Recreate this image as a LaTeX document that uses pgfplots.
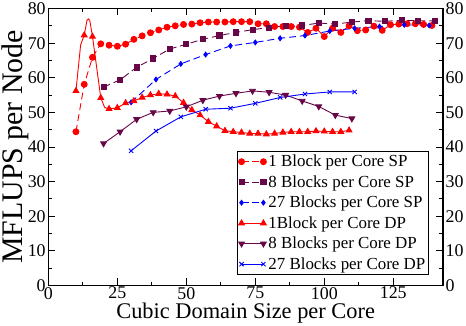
\documentclass[border=0pt]{standalone}
\usepackage{fontspec}
\setmainfont{Liberation Serif}
\usepackage{pgfplots}
\pgfplotsset{compat=1.18}
\definecolor{maroon}{RGB}{103,7,72}
\begin{document}
\begin{tikzpicture}
\pgfplotsset{
  common/.style={
    scale only axis, width=396.6pt, height=278.3pt,
    xmin=0, xmax=143, ymin=0, ymax=80,
    /pgf/number format/assume math mode=true,
    tick label style={font=\fontsize{18}{18}\selectfont},
    yticklabel style={inner sep=2.5pt},
    xticklabel style={inner sep=1.5pt},
  }
}
\begin{axis}[common,
  xtick={0,25,...,125}, ytick={0,10,...,80},
  minor x tick num=1, minor y tick num=1,
  tick align=inside, major tick length=7pt, minor tick length=3.5pt,
  axis line style={line width=1.3pt},
  every tick/.style={black, line width=0.9pt},
  xlabel={Cubic Domain Size per Core},
  ylabel={MFLUPS per Node},
  xlabel style={font=\fontsize{22.5}{22.5}\selectfont, inner sep=2pt},
  ylabel style={font=\fontsize{30}{30}\selectfont, inner sep=1.5pt, yshift=-2pt},
  ylabel shift=-3pt,
  legend style={at={(0.477,0.485)}, anchor=north west, draw=black, line width=1pt,
    font=\fontsize{17}{17}\selectfont, row sep=3.3pt, inner sep=1.5pt},
  legend cell align=left,
  legend image code/.code={\draw[#1] plot coordinates {(0pt,0pt) (22pt,0pt)};},
]
% 1 Block per Core SP
\addplot[red, line width=0.9pt, dash pattern=on 7pt off 4pt, mark=*, mark size=3pt, mark options={solid}, forget plot] coordinates {
(10,44.4)(13,58.1)(16,65.9)(19,69.8)(22,69.4)(25,69.1)(28,69.7)(31,71.1)(34,72.1)(37,73.0)
(40,73.8)(43,74.6)(46,75.0)(49,75.4)(52,75.5)(55,75.9)(58,76.1)(61,76.1)(64,76.1)(67,76.2)
(70,76.2)(73,76.2)(76,75.6)(79,75.6)(82,74.8)(85,74.8)(88,74.8)(91,74.6)(94,73.1)(97,74.3)
(100,71.9)(103,74.3)(106,73.1)(109,75.0)(112,73.6)(115,73.8)(118,74.9)(121,73.7)(124,75.3)
(127,75.5)(130,75.6)(133,75.6)(136,75.4)(139,75.1)};
% 8 Blocks per Core SP
\addplot[maroon, line width=0.9pt, dash pattern=on 7pt off 4pt, mark=square*, mark size=2.6pt, mark options={solid}, forget plot] coordinates {
(20,57.3)(26,59.4)(32,63.0)(38,65.6)(44,68.3)(50,69.7)(56,71.1)(62,72.2)(68,73.1)(74,73.9)
(80,74.5)(86,75.0)(92,75.1)(98,75.8)(104,75.5)(110,76.1)(116,76.5)(122,76.3)(128,76.6)(134,76.5)(140,76.4)};
% 27 Blocks per Core SP
\addplot[blue, line width=0.9pt, dash pattern=on 7pt off 4pt, mark=diamond*, mark size=2.4pt, mark options={solid}, forget plot] coordinates {
(30,52.9)(39,59.5)(48,64.0)(57,66.7)(66,69.2)(75,70.2)(84,71.4)(93,72.2)(102,73.5)(111,74.3)(120,74.8)(129,75.3)(138,75.1)};
% 1Block per Core DP
\addplot[red, line width=0.9pt, mark=triangle*, mark size=3.3pt, mark indices={1,3,7,8,10,11,12,13,14,15,16,17,18,19,20,21,22,23,24,25,26,27,28,29,30,31,32,33,34,35,36,37,38,39,40,41}, forget plot] coordinates {
(10,56.2)(11.7,69.5)(13,72.3)(14,76.6)(14.5,77.0)(15,76.6)(16,71.9)(19,54.2)(20.4,51.4)(22,51.0)
(25,51.3)(28,52.7)(31,53.3)(34,54.3)(37,55.0)(40,55.4)(43,55.2)(46,54.7)(49,52.8)(52,50.7)
(55,49.2)(58,47.3)(61,46.0)(64,44.7)(67,44.4)(70,44.2)(73,43.9)(76,43.9)(79,43.7)(82,43.9)
(85,44.2)(88,44.4)(91,44.4)(94,44.4)(97,44.6)(100,44.5)(103,44.4)(106,44.4)(109,44.8)};
% 8 Blocks per Core DP
\addplot[maroon, line width=0.9pt, mark=triangle*, mark size=3.3pt, mark options={rotate=180}, forget plot] coordinates {
(20,41.0)(26,44.4)(32,48.0)(38,50.0)(44,50.4)(50,51.6)(56,53.5)(62,54.7)(68,55.5)(74,56.2)
(80,55.8)(86,55.0)(92,53.3)(98,51.7)(104,49.2)(110,48.2)};
% 27 Blocks per Core DP
\addplot[blue, line width=0.9pt, mark=x, mark size=3pt, forget plot] coordinates {
(30,38.9)(39,44.6)(48,48.7)(57,50.9)(66,51.2)(75,52.6)(84,54.3)(93,55.3)(102,55.9)(111,55.9)};
\addlegendimage{red, line width=0.9pt, dash pattern=on 7pt off 4pt, mark=*, mark size=3pt, mark options={solid}}
\addlegendentry{1 Block per Core SP}
\addlegendimage{maroon, line width=0.9pt, dash pattern=on 7pt off 4pt, mark=square*, mark size=2.6pt, mark options={solid}}
\addlegendentry{8 Blocks per Core SP}
\addlegendimage{blue, line width=0.9pt, dash pattern=on 7pt off 4pt, mark=diamond*, mark size=2.4pt, mark options={solid}}
\addlegendentry{27 Blocks per Core SP}
\addlegendimage{red, line width=0.9pt, mark=triangle*, mark size=3.3pt}
\addlegendentry{1Block per Core DP}
\addlegendimage{maroon, line width=0.9pt, mark=triangle*, mark size=3.3pt, mark options={rotate=180}}
\addlegendentry{8 Blocks per Core DP}
\addlegendimage{blue, line width=0.9pt, mark=x, mark size=3pt}
\addlegendentry{27 Blocks per Core DP}
\end{axis}
\begin{axis}[common,
  hide x axis, axis y line*=right, y axis line style={draw=none},
  ytick={0,10,...,80}, ytick style={draw=none}, minor y tick num=0,
]
\end{axis}
\end{tikzpicture}
\end{document}
